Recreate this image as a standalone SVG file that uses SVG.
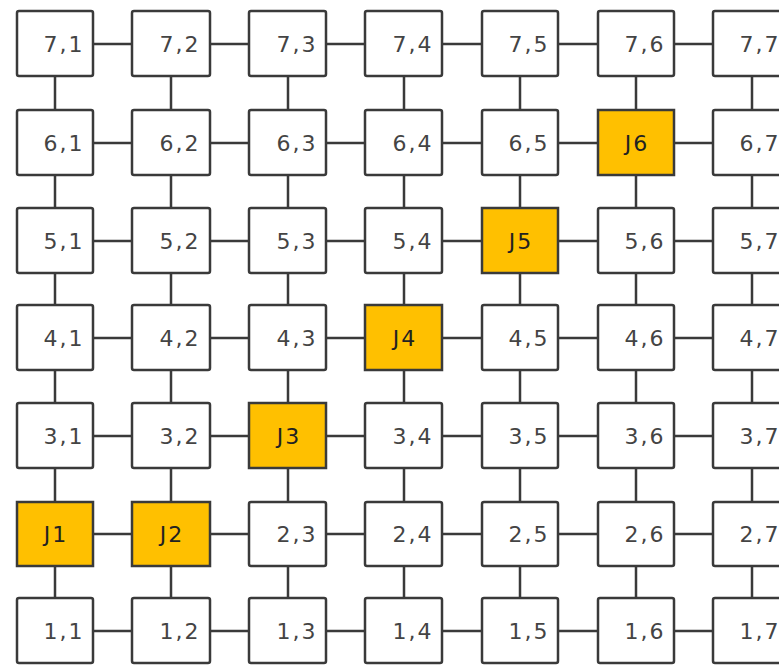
<svg xmlns="http://www.w3.org/2000/svg" width="779" height="665" viewBox="0 0 779 665">
<style>
.n{fill:#fff;stroke:#3a3a3a;stroke-width:2.5}
.j{fill:#ffc000;stroke:#3a3a3a;stroke-width:2.5}
.c{stroke:#3a3a3a;stroke-width:2.5;fill:none}
text{font-family:"DejaVu Sans","Liberation Sans",sans-serif;font-size:22px;fill:#444;dominant-baseline:central}
.t{text-anchor:middle;letter-spacing:2px}
.jt{text-anchor:middle;fill:#222;letter-spacing:2px}
</style>
<rect width="779" height="665" fill="#fff"/>
<g id="connectors" class="c">
<path d="M93 44H132M210 44H249M326 44H365M442 44H482M558 44H598M674 44H713"/>
<path d="M93 143H132M210 143H249M326 143H365M442 143H482M558 143H598M674 143H713"/>
<path d="M93 241H132M210 241H249M326 241H365M442 241H482M558 241H598M674 241H713"/>
<path d="M93 338H132M210 338H249M326 338H365M442 338H482M558 338H598M674 338H713"/>
<path d="M93 436H132M210 436H249M326 436H365M442 436H482M558 436H598M674 436H713"/>
<path d="M93 534H132M210 534H249M326 534H365M442 534H482M558 534H598M674 534H713"/>
<path d="M93 631H132M210 631H249M326 631H365M442 631H482M558 631H598M674 631H713"/>
<path d="M55 76V110M55 175V208M55 273V305M55 370V403M55 468V502M55 566V598"/>
<path d="M171 76V110M171 175V208M171 273V305M171 370V403M171 468V502M171 566V598"/>
<path d="M288 76V110M288 175V208M288 273V305M288 370V403M288 468V502M288 566V598"/>
<path d="M404 76V110M404 175V208M404 273V305M404 370V403M404 468V502M404 566V598"/>
<path d="M520 76V110M520 175V208M520 273V305M520 370V403M520 468V502M520 566V598"/>
<path d="M636 76V110M636 175V208M636 273V305M636 370V403M636 468V502M636 566V598"/>
<path d="M752 76V110M752 175V208M752 273V305M752 370V403M752 468V502M752 566V598"/>
</g>
<g id="n71"><rect class="n" x="17" y="11" width="76" height="65" rx="2"/><text class="t" x="64" y="44">7,1</text></g>
<g id="n72"><rect class="n" x="132" y="11" width="78" height="65" rx="2"/><text class="t" x="180" y="44">7,2</text></g>
<g id="n73"><rect class="n" x="249" y="11" width="77" height="65" rx="2"/><text class="t" x="297" y="44">7,3</text></g>
<g id="n74"><rect class="n" x="365" y="11" width="77" height="65" rx="2"/><text class="t" x="413" y="44">7,4</text></g>
<g id="n75"><rect class="n" x="482" y="11" width="76" height="65" rx="2"/><text class="t" x="529" y="44">7,5</text></g>
<g id="n76"><rect class="n" x="598" y="11" width="76" height="65" rx="2"/><text class="t" x="645" y="44">7,6</text></g>
<g id="n77"><rect class="n" x="713" y="11" width="76" height="65" rx="2"/><text class="t" x="760" y="44">7,7</text></g>
<g id="n61"><rect class="n" x="17" y="110" width="76" height="65" rx="2"/><text class="t" x="64" y="143">6,1</text></g>
<g id="n62"><rect class="n" x="132" y="110" width="78" height="65" rx="2"/><text class="t" x="180" y="143">6,2</text></g>
<g id="n63"><rect class="n" x="249" y="110" width="77" height="65" rx="2"/><text class="t" x="297" y="143">6,3</text></g>
<g id="n64"><rect class="n" x="365" y="110" width="77" height="65" rx="2"/><text class="t" x="413" y="143">6,4</text></g>
<g id="n65"><rect class="n" x="482" y="110" width="76" height="65" rx="2"/><text class="t" x="529" y="143">6,5</text></g>
<g id="j6"><rect class="j" x="598" y="110" width="76" height="65"/><text class="jt" x="637" y="143">J6</text></g>
<g id="n67"><rect class="n" x="713" y="110" width="76" height="65" rx="2"/><text class="t" x="760" y="143">6,7</text></g>
<g id="n51"><rect class="n" x="17" y="208" width="76" height="65" rx="2"/><text class="t" x="64" y="241">5,1</text></g>
<g id="n52"><rect class="n" x="132" y="208" width="78" height="65" rx="2"/><text class="t" x="180" y="241">5,2</text></g>
<g id="n53"><rect class="n" x="249" y="208" width="77" height="65" rx="2"/><text class="t" x="297" y="241">5,3</text></g>
<g id="n54"><rect class="n" x="365" y="208" width="77" height="65" rx="2"/><text class="t" x="413" y="241">5,4</text></g>
<g id="j5"><rect class="j" x="482" y="208" width="76" height="65"/><text class="jt" x="521" y="241">J5</text></g>
<g id="n56"><rect class="n" x="598" y="208" width="76" height="65" rx="2"/><text class="t" x="645" y="241">5,6</text></g>
<g id="n57"><rect class="n" x="713" y="208" width="76" height="65" rx="2"/><text class="t" x="760" y="241">5,7</text></g>
<g id="n41"><rect class="n" x="17" y="305" width="76" height="65" rx="2"/><text class="t" x="64" y="338">4,1</text></g>
<g id="n42"><rect class="n" x="132" y="305" width="78" height="65" rx="2"/><text class="t" x="180" y="338">4,2</text></g>
<g id="n43"><rect class="n" x="249" y="305" width="77" height="65" rx="2"/><text class="t" x="297" y="338">4,3</text></g>
<g id="j4"><rect class="j" x="365" y="305" width="77" height="65"/><text class="jt" x="405" y="338">J4</text></g>
<g id="n45"><rect class="n" x="482" y="305" width="76" height="65" rx="2"/><text class="t" x="529" y="338">4,5</text></g>
<g id="n46"><rect class="n" x="598" y="305" width="76" height="65" rx="2"/><text class="t" x="645" y="338">4,6</text></g>
<g id="n47"><rect class="n" x="713" y="305" width="76" height="65" rx="2"/><text class="t" x="760" y="338">4,7</text></g>
<g id="n31"><rect class="n" x="17" y="403" width="76" height="65" rx="2"/><text class="t" x="64" y="436">3,1</text></g>
<g id="n32"><rect class="n" x="132" y="403" width="78" height="65" rx="2"/><text class="t" x="180" y="436">3,2</text></g>
<g id="j3"><rect class="j" x="249" y="403" width="77" height="65"/><text class="jt" x="289" y="436">J3</text></g>
<g id="n34"><rect class="n" x="365" y="403" width="77" height="65" rx="2"/><text class="t" x="413" y="436">3,4</text></g>
<g id="n35"><rect class="n" x="482" y="403" width="76" height="65" rx="2"/><text class="t" x="529" y="436">3,5</text></g>
<g id="n36"><rect class="n" x="598" y="403" width="76" height="65" rx="2"/><text class="t" x="645" y="436">3,6</text></g>
<g id="n37"><rect class="n" x="713" y="403" width="76" height="65" rx="2"/><text class="t" x="760" y="436">3,7</text></g>
<g id="j1"><rect class="j" x="17" y="502" width="76" height="64"/><text class="jt" x="56" y="534">J1</text></g>
<g id="j2"><rect class="j" x="132" y="502" width="78" height="64"/><text class="jt" x="172" y="534">J2</text></g>
<g id="n23"><rect class="n" x="249" y="502" width="77" height="64" rx="2"/><text class="t" x="297" y="534">2,3</text></g>
<g id="n24"><rect class="n" x="365" y="502" width="77" height="64" rx="2"/><text class="t" x="413" y="534">2,4</text></g>
<g id="n25"><rect class="n" x="482" y="502" width="76" height="64" rx="2"/><text class="t" x="529" y="534">2,5</text></g>
<g id="n26"><rect class="n" x="598" y="502" width="76" height="64" rx="2"/><text class="t" x="645" y="534">2,6</text></g>
<g id="n27"><rect class="n" x="713" y="502" width="76" height="64" rx="2"/><text class="t" x="760" y="534">2,7</text></g>
<g id="n11"><rect class="n" x="17" y="598" width="76" height="65" rx="2"/><text class="t" x="64" y="631">1,1</text></g>
<g id="n12"><rect class="n" x="132" y="598" width="78" height="65" rx="2"/><text class="t" x="180" y="631">1,2</text></g>
<g id="n13"><rect class="n" x="249" y="598" width="77" height="65" rx="2"/><text class="t" x="297" y="631">1,3</text></g>
<g id="n14"><rect class="n" x="365" y="598" width="77" height="65" rx="2"/><text class="t" x="413" y="631">1,4</text></g>
<g id="n15"><rect class="n" x="482" y="598" width="76" height="65" rx="2"/><text class="t" x="529" y="631">1,5</text></g>
<g id="n16"><rect class="n" x="598" y="598" width="76" height="65" rx="2"/><text class="t" x="645" y="631">1,6</text></g>
<g id="n17"><rect class="n" x="713" y="598" width="76" height="65" rx="2"/><text class="t" x="760" y="631">1,7</text></g>
</svg>
